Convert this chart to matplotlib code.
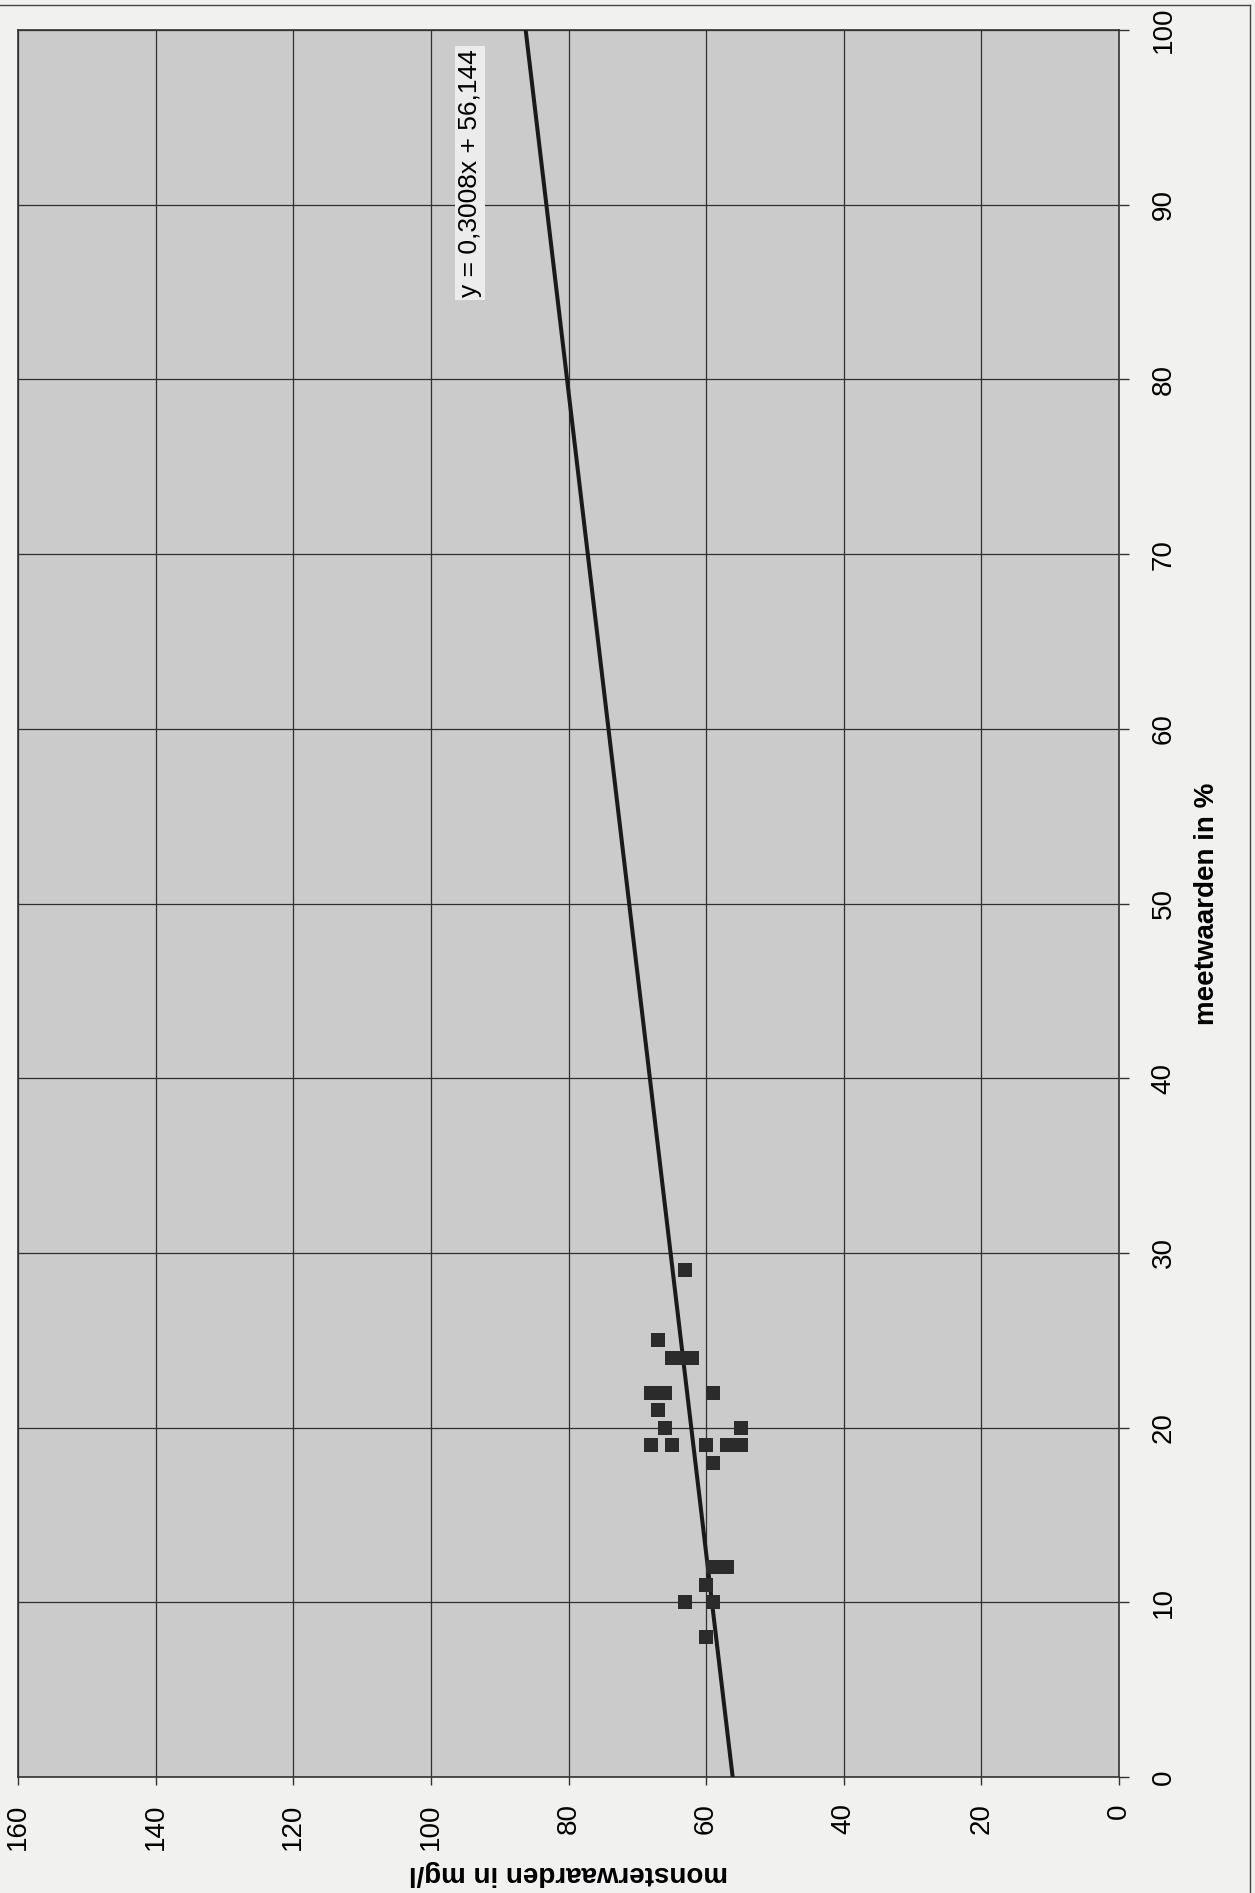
import numpy as np
import matplotlib
matplotlib.use('Agg')
import matplotlib.pyplot as plt
from matplotlib.lines import Line2D

plt.rcParams['font.family'] = ['Liberation Sans', 'DejaVu Sans']

# meetwaarden in % (original x) and monsterwaarden in mg/l (original y)
meet = [29, 25, 24, 24, 24, 22, 22, 22, 21, 20, 20,
        19, 19, 19, 19, 19, 18, 12, 12, 11, 10, 10, 8]
monster = [63, 67, 65, 63.5, 62, 68, 66, 59, 67, 66, 55,
           68, 65, 60, 57, 55, 59, 59, 57, 60, 63, 59, 60]

# trendline as given in the chart label
slope = 0.3008
intercept = 56.144
trend_x = [0, 100]
eq_text = 'y = 0,3008x + 56,144'

x_ticks = [0, 10, 20, 30, 40, 50, 60, 70, 80, 90, 100]
y_ticks = [0, 20, 40, 60, 80, 100, 120, 140, 160]

fig = plt.figure(figsize=(12.55, 18.93), dpi=100)
fig.patch.set_facecolor('#f1f1f0')
# chart is printed rotated: horizontal axis = monsterwaarden (reversed), vertical = meetwaarden
ax = fig.add_axes([18 / 1255, 1 - 1777 / 1893, 1101 / 1255, 1747 / 1893])
ax.set_facecolor('#cbcbcb')

trend_y = [slope * v + intercept for v in trend_x]
ax.plot(trend_y, trend_x, color='#1a1a1a', lw=2.9, zorder=3)
ax.plot(monster, meet, 's', color='#2b2b2b', markersize=10.5, markeredgewidth=0, zorder=4)

ax.set_xlim(160, 0)
ax.set_ylim(0, 100)
ax.set_xticks(y_ticks)
ax.set_yticks(x_ticks)
ax.grid(True, color='#2f2f2f', lw=0.9)
ax.set_axisbelow(True)
for s in ax.spines.values():
    s.set_color('#333333')
    s.set_linewidth(1.2)

ax.yaxis.tick_right()
ax.yaxis.set_label_position('right')
ax.tick_params(axis='x', direction='out', length=6, width=1, color='#333333',
               labelsize=20, labelrotation=90, pad=13)
ax.tick_params(axis='y', direction='out', length=7, width=1, color='#333333',
               labelsize=20, labelrotation=90, pad=25)
for lab in ax.get_yticklabels():
    lab.set_va('center')
    lab.set_ha('center')

ax.set_xlabel('monsterwaarden in mg/l', fontsize=20, fontweight='bold', rotation=180)
ax.xaxis.set_label_coords(0.5, -0.055)
ax.xaxis.label.set_va('center')
ax.set_ylabel('meetwaarden in %', fontsize=20, fontweight='bold', rotation=90)
ax.yaxis.set_label_coords(1.08, 0.5)
ax.yaxis.label.set_va('center')
ax.yaxis.label.set_ha('center')

ax.text(94.3, 91.8, eq_text, rotation=90, fontsize=19, ha='center', va='center',
        bbox=dict(facecolor='#ececec', edgecolor='none', pad=2), zorder=5)

# page border on top and right
fig.add_artist(Line2D([0, 1250 / 1255], [1 - 5 / 1893, 1 - 5 / 1893],
                      transform=fig.transFigure, color='#444444', lw=1))
fig.add_artist(Line2D([1250 / 1255, 1250 / 1255], [0, 1 - 5 / 1893],
                      transform=fig.transFigure, color='#444444', lw=1))

fig.savefig('out.png', dpi=100)
